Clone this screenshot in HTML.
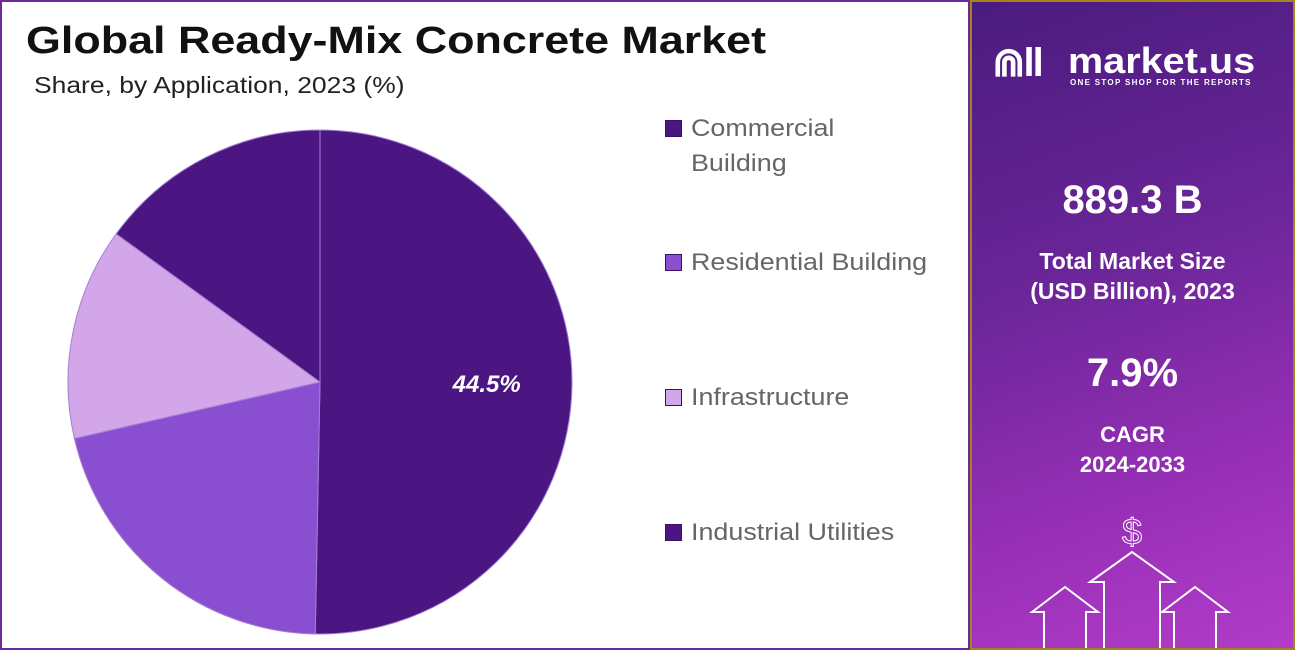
<!DOCTYPE html>
<html><head><meta charset="utf-8"><style>
body{margin:0;width:1295px;height:650px;overflow:hidden;background:#fff;font-family:"Liberation Sans",sans-serif;}
#left{position:absolute;left:0;top:0;width:966px;height:646px;border:2px solid #6a2a9a;background:#fff;}
#right{position:absolute;left:970px;top:0;width:321px;height:646px;border:2px solid #a5821e;background:linear-gradient(160deg,#4a1b7e 0%,#6a2598 40%,#9a30b8 75%,#b13cc8 100%);color:#fff;text-align:center;overflow:hidden}
.t{position:absolute;}
.leg{position:absolute;left:663px;font-size:24px;color:#666;line-height:35px}
.sw{position:absolute;left:0;top:9px;width:17px;height:17px;border:1px solid #3a0f66;box-sizing:border-box}
.leg span{position:absolute;left:26px;white-space:nowrap;transform:scaleX(1.12);transform-origin:left}
</style></head><body>
<div id="left">
<div class="t" style="left:24px;top:18px;font-size:38px;font-weight:bold;color:#111;transform:scaleX(1.18);transform-origin:left;white-space:nowrap">Global Ready-Mix Concrete Market</div>
<div class="t" style="left:32px;top:70px;font-size:23px;color:#222;transform:scaleX(1.15);transform-origin:left;white-space:nowrap">Share, by Application, 2023 (%)</div>
<svg id="pie" style="position:absolute;left:0;top:0" width="966" height="646"></svg>
<div class="leg" style="top:109px"><div class="sw" style="background:#4b1582"></div><span>Commercial<br>Building</span></div>
<div class="leg" style="top:243px"><div class="sw" style="background:#8a4fd0"></div><span>Residential Building</span></div>
<div class="leg" style="top:378px"><div class="sw" style="background:#d3a6ea"></div><span>Infrastructure</span></div>
<div class="leg" style="top:513px"><div class="sw" style="background:#4b1582"></div><span>Industrial Utilities</span></div>
</div>
<div id="right">
<div class="t" style="left:20px;top:38px;width:290px;height:50px;text-align:left">
<span style="font-size:40px;font-weight:bold;letter-spacing:-2px;position:absolute;left:0;top:0">⋒ll</span>
<span style="font-size:36px;font-weight:bold;position:absolute;left:76px;top:0;white-space:nowrap;transform:scaleX(1.1);transform-origin:left">market.us</span>
<span style="font-size:8px;font-weight:bold;letter-spacing:1.3px;position:absolute;left:78px;top:38px;white-space:nowrap">ONE STOP SHOP FOR THE REPORTS</span></div>
<div class="t" style="left:0;width:321px;top:176px;font-size:40px;font-weight:bold">889.3 B</div>
<div class="t" style="left:0;width:321px;top:244px;font-size:23px;font-weight:bold;line-height:30px">Total Market Size<br>(USD Billion), 2023</div>
<div class="t" style="left:0;width:321px;top:349px;font-size:40px;font-weight:bold">7.9%</div>
<div class="t" style="left:0;width:321px;top:418px;font-size:22px;font-weight:bold;line-height:30px">CAGR<br>2024-2033</div>
<svg class="t" style="left:0;top:500px" width="321" height="150">
<text x="160" y="42" font-size="36" fill="none" stroke="#fff" text-anchor="middle" font-family="Liberation Sans">$</text>
<g fill="none" stroke="#fff" stroke-width="2"><path d="M132 150V80h-14l42-30 42 30h-14v70"/><path d="M72 150v-40h-12l33-25 33 25h-12v40"/><path d="M202 150v-40h-12l33-25 33 25h-12v40"/></g></svg>
</div>
<script>
const categories=["Commercial Building","Residential Building","Infrastructure","Industrial Utilities"];
const shares=[50.3,21.1,13.6,15.0];
const colors=["#4b1582","#8a4fd0","#d3a6ea","#4b1582"];
const printedLabels=["44.5%","","",""];
const svg=document.getElementById('pie'),NS="http://www.w3.org/2000/svg";
const cx=318,cy=380,r=252;
const total=shares.reduce((a,b)=>a+b,0);
function pt(a,rr){return [cx+rr*Math.sin(a),cy-rr*Math.cos(a)];}
let a0=0;
shares.forEach((v,i)=>{
 const a1=a0+v/total*2*Math.PI;
 const p0=pt(a0,r),p1=pt(a1,r);
 const p=document.createElementNS(NS,'path');
 p.setAttribute('d',`M${cx},${cy}L${p0[0]},${p0[1]}A${r},${r} 0 ${a1-a0>Math.PI?1:0} 1 ${p1[0]},${p1[1]}Z`);
 p.setAttribute('fill',colors[i]);p.setAttribute('stroke','#a57fd6');p.setAttribute('stroke-width','1');
 
 
 svg.appendChild(p);
 if(printedLabels[i]){
  const m=pt((a0+a1)/2,r*0.84);
  const t=document.createElementNS(NS,'text');
  t.setAttribute('x',m[0]-45);t.setAttribute('y',m[1]+8);
  t.setAttribute('fill','#fff');t.setAttribute('font-size','24');t.setAttribute('font-weight','bold');t.setAttribute('font-style','italic');t.setAttribute('text-anchor','middle');t.setAttribute('font-family','Liberation Sans');
  t.textContent=printedLabels[i];
  
  
  svg.appendChild(t);
 }
 a0=a1;
});
</script>
</body></html>
